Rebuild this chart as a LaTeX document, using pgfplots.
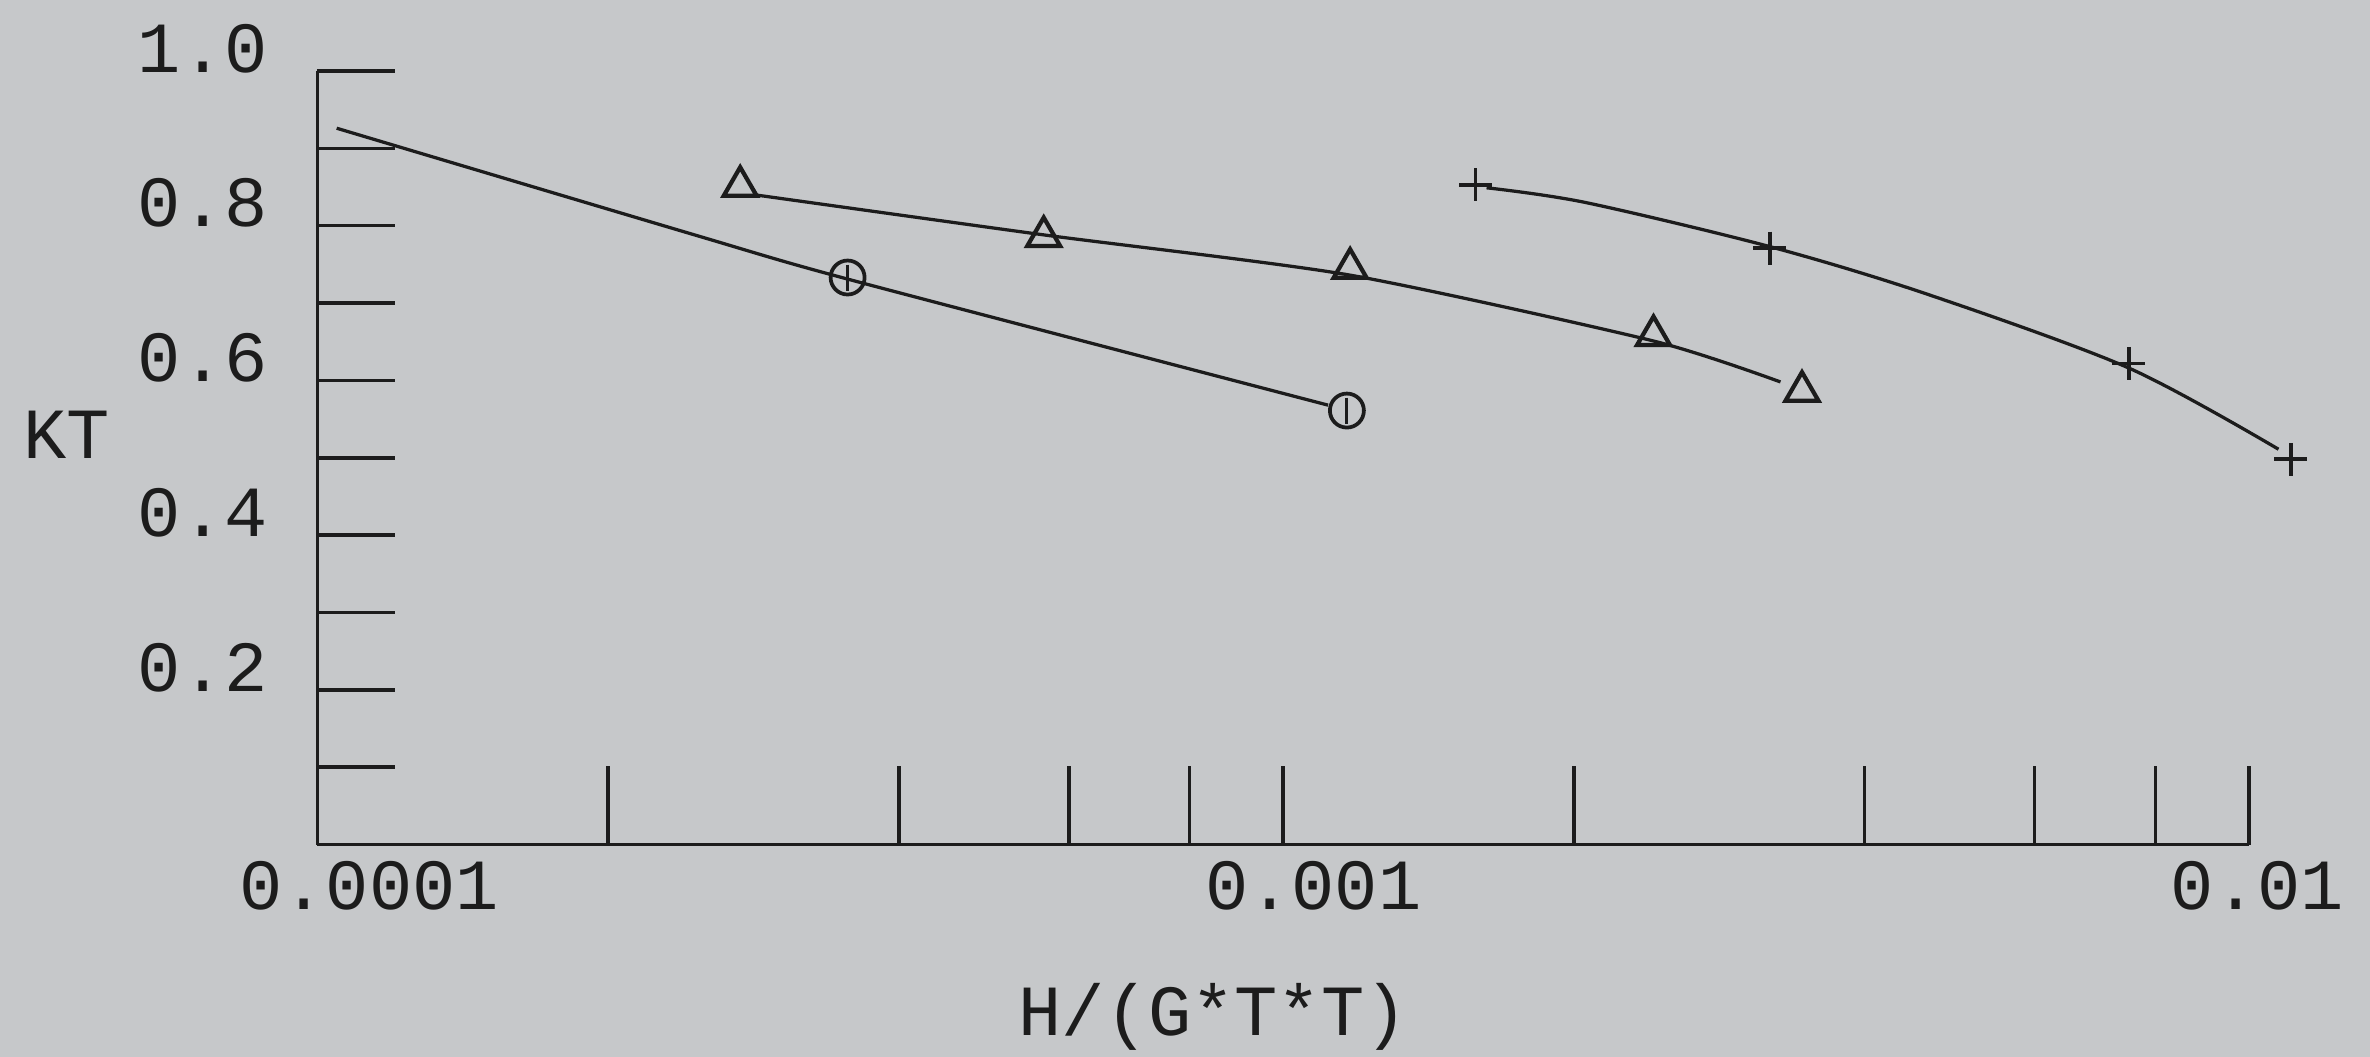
\documentclass[border=0pt]{standalone}
\usepackage{fontspec}
\setmainfont{Liberation Mono}
\usepackage{pgfplots}
\pgfplotsset{compat=1.18}
\definecolor{paper}{RGB}{198,200,202}
\definecolor{ink}{RGB}{28,28,28}

\begin{document}
\begin{tikzpicture}
\fill[paper] (-63.5pt,-42.5pt) rectangle (410.5pt,168.9pt);
\useasboundingbox (-63.5pt,-42.5pt) rectangle (410.5pt,168.9pt);
\begin{axis}[
    at={(0,0)}, anchor=south west,
    scale only axis, width=386.3pt, height=154.7pt,
    xmode=log, xmin=1e-4, xmax=1e-2, ymin=0, ymax=1,
    axis lines=left,
    axis line style={ink, line width=0.55pt, -},
    x axis line style={-}, y axis line style={-},
    tick align=inside, major tick length=15.6pt, minor tick length=15.6pt,
    tick style={ink, line width=0.7pt},
    xtick={1e-4,1e-3,1e-2}, xticklabels={0.0001,0.001,0.01},
    minor xtick={2e-4,4e-4,6e-4,8e-4,2e-3,4e-3,6e-3,8e-3},
    ytick={0.2,0.4,0.6,0.8,1.0}, yticklabels={0.2,0.4,0.6,0.8,1.0},
    minor ytick={0.1,0.3,0.5,0.7,0.9},
    ticklabel style={font=\fontsize{14.4}{17}\selectfont, text=ink, inner sep=0pt},
    xticklabel style={anchor=north west, xshift=-15.8pt, yshift=-3.2pt},
    yticklabel style={anchor=south east, xshift=-9.8pt, yshift=-0.6pt},
    xlabel={H/(G*T*T)}, ylabel={KT},
    label style={font=\fontsize{14.4}{17}\selectfont, text=ink, inner sep=0pt},
    xlabel style={at={(axis description cs:0.4637,-0.2233)}, anchor=center},
    ylabel style={at={(axis description cs:-0.130,0.530)}, anchor=center, rotate=-90},
    clip=false,
]
% circle series
\addplot[ink, line width=0.65pt, smooth, tension=0.4] coordinates {
  (1.047e-4,0.926) (2.49e-4,0.786) (3.54e-4,0.731) (1.113e-3,0.568)
};
\addplot[ink, only marks, mark=o, mark size=3.4pt, mark options={line width=0.75pt}] coordinates {
  (3.54e-4,0.733) (1.164e-3,0.561)
};
\addplot[ink, only marks, mark=|, mark size=2.6pt, mark options={line width=0.6pt}] coordinates {
  (3.54e-4,0.733) (1.164e-3,0.561)
};
% triangle series
\addplot[ink, line width=0.65pt, smooth, tension=0.4] coordinates {
  (2.834e-4,0.840) (5.66e-4,0.788) (1.174e-3,0.736) (2.417e-3,0.651) (3.273e-3,0.598)
};
\addplot[ink, only marks, mark=triangle, mark size=3.8pt, mark options={line width=0.85pt}] coordinates {
  (2.74e-4,0.851) (5.65e-4,0.786) (1.173e-3,0.745) (2.418e-3,0.658) (3.445e-3,0.586)
};
% plus series
\addplot[ink, line width=0.65pt, smooth, tension=0.5] coordinates {
  (1.624e-3,0.849) (2.056e-3,0.830) (3.19e-3,0.773) (4.63e-3,0.712)
  (7.51e-3,0.616) (1.073e-2,0.511)
};
\addplot[ink, only marks, mark=+, mark size=3.3pt, mark options={line width=0.75pt}] coordinates {
  (1.582e-3,0.853) (3.19e-3,0.771) (7.51e-3,0.622) (1.105e-2,0.498)
};
\end{axis}
\end{tikzpicture}
\end{document}
